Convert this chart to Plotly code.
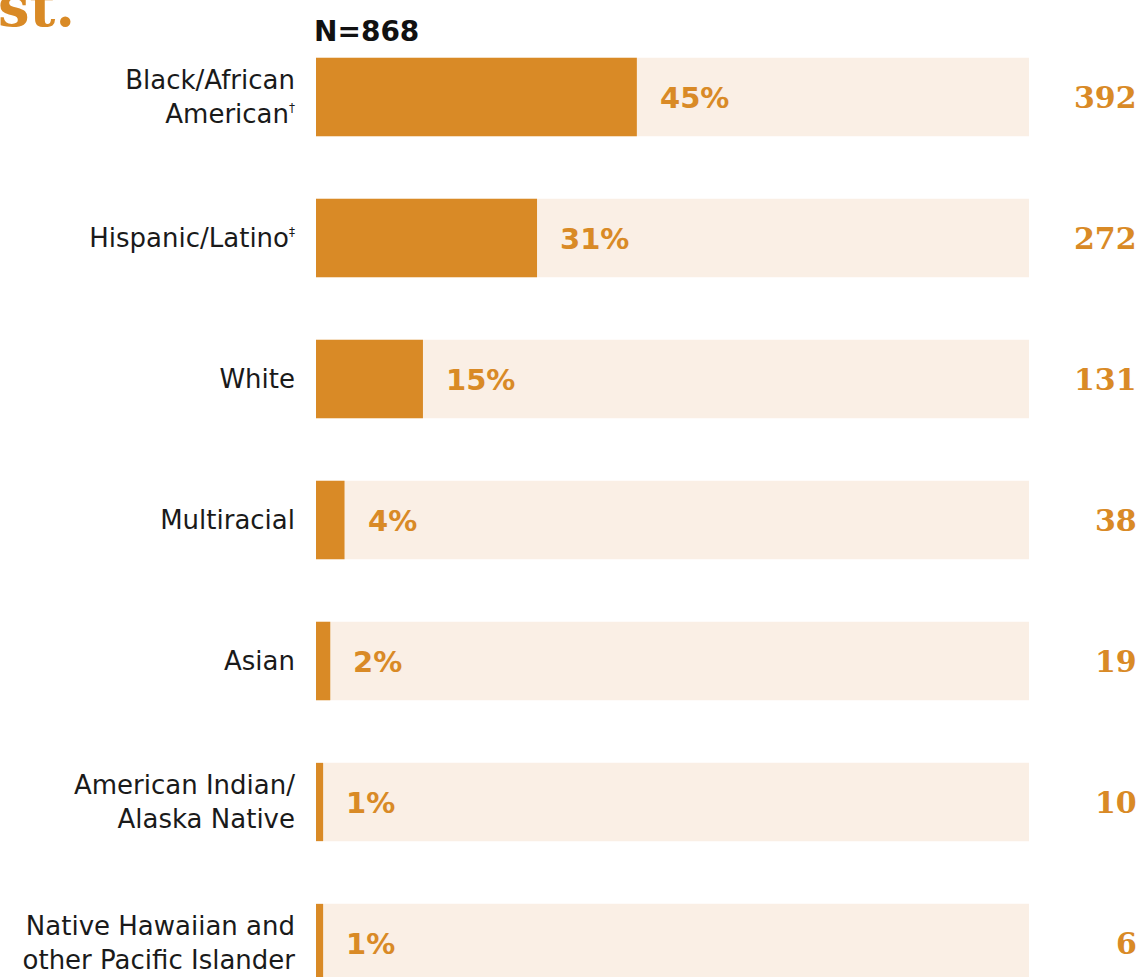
import plotly.graph_objects as go

# Race/ethnicity breakdown, N=868
DAGGER = "<sup><span style='font-size:12px;color:#1a1a1a'>†</span></sup>"
DDAGGER = "<sup><span style='font-size:12px;color:#1a1a1a'>‡</span></sup>"
categories = [
    "Black/African<br>American" + DAGGER,
    "Hispanic/Latino" + DDAGGER,
    "White",
    "Multiracial",
    "Asian",
    "American Indian/<br>Alaska Native",
    "Native Hawaiian and<br>other Pacific Islander",
]
percent = [45, 31, 15, 4, 2, 1, 1]
counts = [392, 272, 131, 38, 19, 10, 6]
total_label = "N=868"

ORANGE = "#D98A26"
TRACK = "#FAEFE5"
SANS = "DejaVu Sans"
SERIF = "DejaVu Serif"
W, H = 1143, 977

pos = list(range(len(categories)))

fig = go.Figure()

# full-width track behind each bar
fig.add_trace(go.Bar(
    x=[100] * len(categories), y=pos, orientation="h",
    marker=dict(color=TRACK, line=dict(width=0)),
    width=0.555, hoverinfo="skip", showlegend=False,
))
# share of respondents
fig.add_trace(go.Bar(
    x=percent, y=pos, orientation="h",
    marker=dict(color=ORANGE, line=dict(width=0)),
    width=0.555, showlegend=False,
))
fig.update_layout(barmode="overlay")

# percent labels just past the end of each bar
for p, v in zip(pos, percent):
    fig.add_annotation(
        x=v, y=p, xref="x", yref="y", text=f"{v}%",
        showarrow=False, xanchor="left", yanchor="middle", xshift=21, yshift=-1,
        font=dict(family=SANS, size=29, color=ORANGE, weight="bold"),
    )

# counts in the right column
for p, c in zip(pos, counts):
    fig.add_annotation(
        x=1139 / W, y=p, xref="paper", yref="y", text=str(c),
        showarrow=False, xanchor="right", yanchor="middle", yshift=0,
        font=dict(family=SERIF, size=30, color=ORANGE, weight="bold"),
    )

# sample size above the first bar
fig.add_annotation(
    x=0, y=1 - 32 / H, xref="x", yref="paper", text=total_label,
    showarrow=False, xanchor="left", yanchor="middle", xshift=-4,
    font=dict(family=SANS, size=28, color="#111111", weight="bold"),
)

# tail of the heading above the chart
fig.add_annotation(
    x=0, y=1, xref="paper", yref="paper", text="st.",
    showarrow=False, xanchor="left", yanchor="middle", yshift=-6, xshift=-4,
    font=dict(family=SERIF, size=56, color=ORANGE, weight="bold"),
)

x0_px, x100_px = 316, 1029
c0_px, step_px = 97, 141
fig.update_layout(
    width=W, height=H,
    margin=dict(l=0, r=0, t=0, b=0),
    paper_bgcolor="white", plot_bgcolor="white",
    xaxis=dict(domain=[x0_px / W, x100_px / W], range=[0, 100],
               visible=False, fixedrange=True),
    yaxis=dict(
        domain=[0, 1],
        range=[(H - c0_px) / step_px, -c0_px / step_px],
        tickvals=pos, ticktext=categories,
        showgrid=False, zeroline=False, showline=False, ticks="",
        ticklabelstandoff=20,
        tickfont=dict(family=SANS, size=26, color="#1a1a1a"),
    ),
)

fig.write_html("out.html")
